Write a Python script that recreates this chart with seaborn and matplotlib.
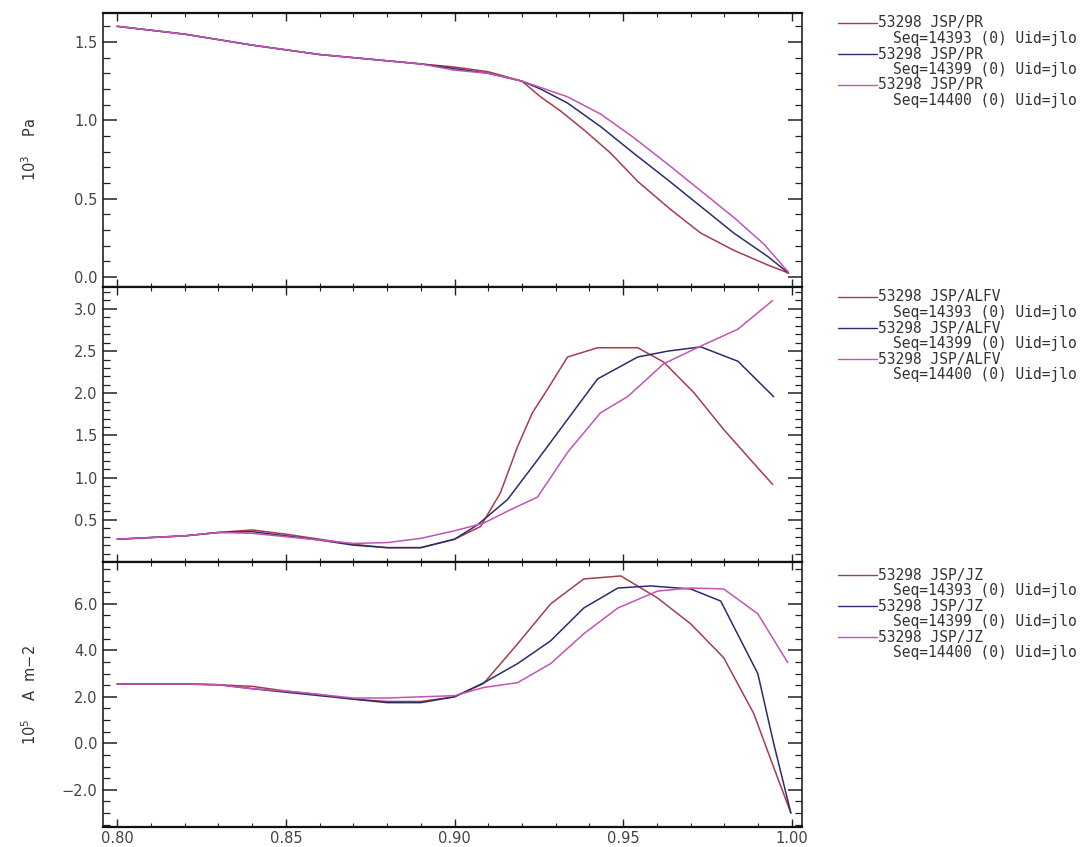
import numpy as np
import pandas as pd
import matplotlib
matplotlib.use("Agg")
import matplotlib.pyplot as plt
from matplotlib.lines import Line2D
from matplotlib.ticker import MultipleLocator, FixedLocator, FixedFormatter
import seaborn as sns

# ---------------- data ----------------
series_names = ["14393", "14399", "14400"]
series_colors = ["#a83c4c", "#2c2c6c", "#c454b4"]

# Panel 1: JSP/PR (10^3 Pa)
pr_x_common = [0.80, 0.82, 0.84, 0.86, 0.88, 0.89]
pr_y_common = [1.60, 1.55, 1.48, 1.42, 1.38, 1.36]
pr_x_a = [0.90, 0.91, 0.92, 0.9255, 0.9314, 0.9383, 0.9463, 0.9543, 0.9641, 0.973, 0.9828, 0.9929, 0.999]
pr_y_a = [1.34, 1.31, 1.25, 1.15, 1.06, 0.94, 0.79, 0.61, 0.43, 0.28, 0.17, 0.076, 0.025]
pr_x_b = [0.90, 0.91, 0.92, 0.9255, 0.9335, 0.9433, 0.9531, 0.9632, 0.973, 0.9828, 0.9929, 0.999]
pr_y_b = [1.33, 1.30, 1.25, 1.20, 1.11, 0.96, 0.79, 0.62, 0.45, 0.28, 0.13, 0.025]
pr_x_c = [0.90, 0.91, 0.92, 0.9255, 0.9335, 0.9433, 0.9531, 0.9632, 0.973, 0.9828, 0.9917, 0.999]
pr_y_c = [1.32, 1.30, 1.25, 1.21, 1.15, 1.04, 0.89, 0.72, 0.55, 0.38, 0.21, 0.03]

# Panel 2: JSP/ALFV
al_x_common = [0.80, 0.82, 0.83]
al_y_common = [0.27, 0.31, 0.35]
al_x_a = [0.84, 0.85, 0.86, 0.87, 0.88, 0.89, 0.90, 0.9077, 0.9136, 0.9187, 0.9231, 0.9276, 0.9335,
          0.9424, 0.9543, 0.962, 0.9709, 0.9798, 0.9878, 0.9943]
al_y_a = [0.38, 0.33, 0.27, 0.21, 0.17, 0.17, 0.27, 0.42, 0.82, 1.37, 1.77, 2.05, 2.43,
          2.54, 2.54, 2.37, 2.01, 1.57, 1.21, 0.92]
al_x_b = [0.84, 0.85, 0.86, 0.87, 0.88, 0.89, 0.90, 0.9068, 0.9157, 0.9246, 0.9335, 0.9424, 0.9543,
          0.9632, 0.973, 0.984, 0.9946]
al_y_b = [0.36, 0.31, 0.26, 0.20, 0.17, 0.17, 0.27, 0.44, 0.74, 1.21, 1.69, 2.17, 2.43,
          2.50, 2.55, 2.38, 1.96]
al_x_c = [0.84, 0.85, 0.86, 0.87, 0.88, 0.89, 0.90, 0.9086, 0.9166, 0.9246, 0.9335, 0.9433, 0.9513,
          0.962, 0.973, 0.984, 0.9943]
al_y_c = [0.34, 0.30, 0.26, 0.22, 0.23, 0.28, 0.37, 0.46, 0.62, 0.77, 1.30, 1.77, 1.96,
          2.35, 2.56, 2.76, 3.10]

# Panel 3: JSP/JZ (10^5 A m-2)
jz_x_common = [0.80, 0.82, 0.83]
jz_y_common = [2.55, 2.55, 2.52]
jz_x_a = [0.84, 0.85, 0.86, 0.87, 0.88, 0.89, 0.90, 0.9086, 0.9187, 0.9285, 0.9383, 0.9493,
          0.9602, 0.97, 0.9798, 0.9887, 0.9946, 0.9997]
jz_y_a = [2.45, 2.25, 2.10, 1.90, 1.80, 1.80, 2.00, 2.57, 4.28, 6.00, 7.07, 7.20,
          6.25, 5.14, 3.68, 1.28, -1.03, -3.00]
jz_x_b = [0.84, 0.85, 0.86, 0.87, 0.88, 0.89, 0.90, 0.9086, 0.9187, 0.9285, 0.9383, 0.9484,
          0.9581, 0.97, 0.9789, 0.9899, 0.9946, 0.9997]
jz_y_b = [2.35, 2.20, 2.05, 1.90, 1.75, 1.75, 2.00, 2.60, 3.43, 4.41, 5.82, 6.68,
          6.77, 6.64, 6.12, 3.00, 0.00, -3.00]
jz_x_c = [0.84, 0.85, 0.86, 0.87, 0.88, 0.89, 0.90, 0.9086, 0.9187, 0.9285, 0.9383, 0.9484,
          0.9602, 0.97, 0.9798, 0.9899, 0.9988]
jz_y_c = [2.35, 2.25, 2.10, 1.95, 1.95, 2.00, 2.05, 2.40, 2.61, 3.43, 4.71, 5.82,
          6.55, 6.68, 6.64, 5.57, 3.47]

legend_signals = ["JSP/PR", "JSP/ALFV", "JSP/JZ"]
shot = "53298"
ylabels = ["10$^3$    Pa", "", "10$^5$    A  m\u22122"]
xtick_vals = [0.80, 0.85, 0.90, 0.95, 1.00]
xtick_labels = ["0.80", "0.85", "0.90", "0.95", "1.00"]
ytick_vals = [[0.0, 0.5, 1.0, 1.5], [0.5, 1.0, 1.5, 2.0, 2.5, 3.0], [-2.0, 0.0, 2.0, 4.0, 6.0]]
ytick_labels = [["0.0", "0.5", "1.0", "1.5"], ["0.5", "1.0", "1.5", "2.0", "2.5", "3.0"],
                ["\u22122.0", "0.0", "2.0", "4.0", "6.0"]]
yminor = [0.1, 0.1, 0.5]
ylims = [(-0.064, 1.685), (0.0, 3.26), (-3.6, 7.8)]
xlim = (0.7958, 1.003)


def build(xc, yc, xa, ya, xb, yb, xcc, ycc):
    rows = []
    for name, xs, ys in zip(series_names, [xa, xb, xcc], [ya, yb, ycc]):
        for x, y in zip(list(xc) + list(xs), list(yc) + list(ys)):
            rows.append({"x": x, "y": y, "series": name})
    return pd.DataFrame(rows)


frames = [
    build(pr_x_common, pr_y_common, pr_x_a, pr_y_a, pr_x_b, pr_y_b, pr_x_c, pr_y_c),
    build(al_x_common, al_y_common, al_x_a, al_y_a, al_x_b, al_y_b, al_x_c, al_y_c),
    build(jz_x_common, jz_y_common, jz_x_a, jz_y_a, jz_x_b, jz_y_b, jz_x_c, jz_y_c),
]

# ---------------- figure ----------------
sns.set_theme(style="ticks")
plt.rcParams["font.family"] = ["DejaVu Sans"]

W, H = 1083, 847
fig = plt.figure(figsize=(W / 100, H / 100), dpi=100)
fig.patch.set_facecolor("white")

left_px, right_px = 103, 802
panels_px = [(13, 287), (287, 562), (562, 827)]
palette = dict(zip(series_names, series_colors))

axes = []
for i, (top, bot) in enumerate(panels_px):
    ax = fig.add_axes([left_px / W, 1 - bot / H, (right_px - left_px) / W, (bot - top) / H])
    axes.append(ax)
    sns.lineplot(data=frames[i], x="x", y="y", hue="series", palette=palette, ax=ax,
                 legend=False, sort=False, estimator=None, linewidth=1.1)
    ax.set_xlim(*xlim)
    ax.set_ylim(*ylims[i])
    ax.set_xlabel("")
    ax.set_ylabel("")
    ax.xaxis.set_major_locator(FixedLocator(xtick_vals))
    ax.xaxis.set_minor_locator(MultipleLocator(0.01))
    ax.yaxis.set_major_locator(FixedLocator(ytick_vals[i]))
    ax.yaxis.set_major_formatter(FixedFormatter(ytick_labels[i]))
    ax.yaxis.set_minor_locator(MultipleLocator(yminor[i]))
    if i < 2:
        ax.set_xticklabels([])
    else:
        ax.xaxis.set_major_formatter(FixedFormatter(xtick_labels))
    ax.tick_params(axis="both", which="both", direction="in", top=True, right=True,
                   colors="#222222", labelcolor="#444444", labelsize=10.5)
    ax.tick_params(axis="y", which="major", length=10, width=1.1, pad=4)
    ax.tick_params(axis="y", which="minor", length=5, width=0.9)
    ax.tick_params(axis="x", which="major", length=6, width=1.0, pad=3)
    ax.tick_params(axis="x", which="minor", length=3, width=0.8)
    for side, sp in ax.spines.items():
        sp.set_color("#111111")
        sp.set_linewidth(1.6 if side in ("top", "bottom") else 1.1)
    ax.set_facecolor("white")

# y labels
fig.text(30 / W, 1 - 150 / H, ylabels[0], rotation=90, ha="center", va="center",
         fontsize=10.5, color="#333333")
fig.text(30 / W, 1 - 695 / H, ylabels[2], rotation=90, ha="center", va="center",
         fontsize=10.5, color="#333333")

# legends (IDL-style, right of each panel)
first_rows = [23, 297, 575]
row_step = 15.5
for p, sig in enumerate(legend_signals):
    for k, (name, col) in enumerate(zip(series_names, series_colors)):
        y1 = first_rows[p] + (2 * k) * row_step
        y2 = y1 + row_step
        fig.add_artist(Line2D([838 / W, 877 / W], [1 - y1 / H, 1 - y1 / H],
                              color=col, linewidth=1.0, transform=fig.transFigure))
        fig.text(878 / W, 1 - y1 / H, f"{shot} {sig}", ha="left", va="center",
                 fontsize=10.5, family="DejaVu Sans Mono", color="#333333")
        fig.text(893 / W, 1 - y2 / H, f"Seq={name} (0) Uid=jlo", ha="left", va="center",
                 fontsize=10.5, family="DejaVu Sans Mono", color="#333333")

fig.savefig("out.png", dpi=100, facecolor="white")
